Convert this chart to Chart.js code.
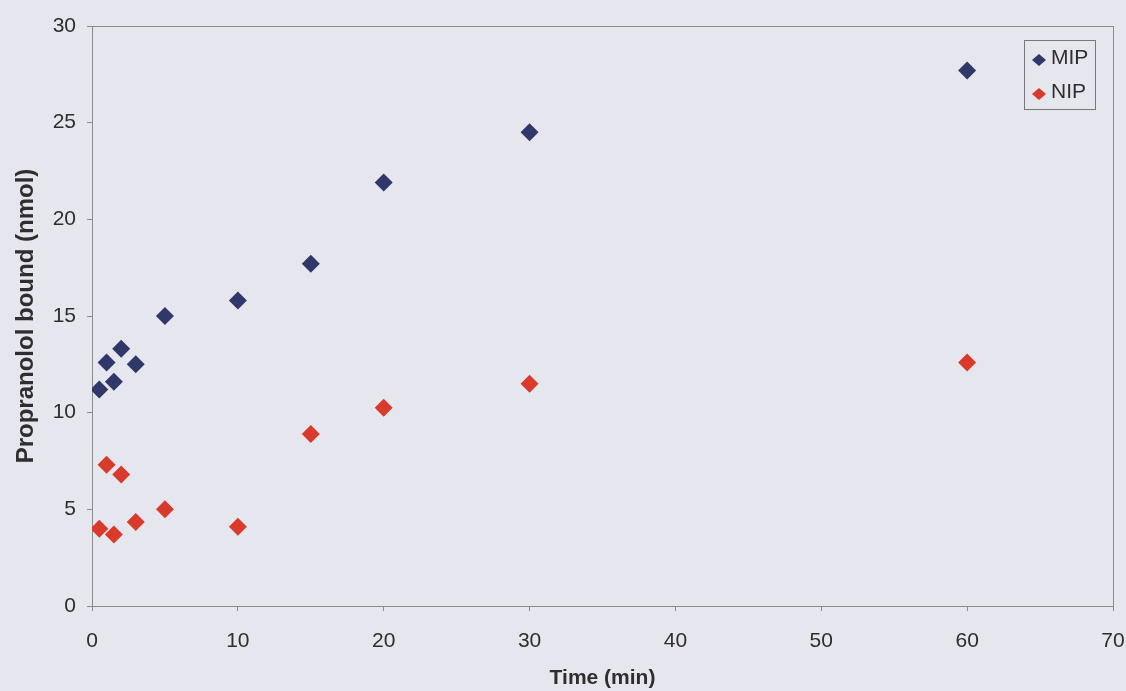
<!DOCTYPE html>
<html>
<head>
<meta charset="utf-8">
<script src="https://cdn.jsdelivr.net/npm/chart.js@4"></script>
<style>
  html, body { margin: 0; padding: 0; background: #e6e6ee; }
  #wrap { width: 1126px; height: 691px; }
</style>
</head>
<body>
<div id="wrap"><canvas id="bindingChart" width="1126" height="691"></canvas></div>
<script>
const timeMin = [0.5, 1, 1.5, 2, 3, 5, 10, 15, 20, 30, 60];
const mipBound = [11.2, 12.6, 11.6, 13.3, 12.5, 15.0, 15.8, 17.7, 21.9, 24.5, 27.7];
const nipBound = [4.0, 7.3, 3.7, 6.8, 4.35, 5.0, 4.1, 8.9, 10.25, 11.5, 12.6];
const seriesNames = ["MIP", "NIP"];
const seriesColors = ["#2f3868", "#d83a2c"];

const ctx = document.getElementById("bindingChart");
const axisColor = "#8a8a90";
const textColor = "#2e2e2e";
const fontName = "'Liberation Sans', Arial, sans-serif";

// paint the page-coloured background behind everything
const bgPlugin = {
  id: "bg",
  beforeDraw(chart) {
    const c = chart.ctx;
    c.save();
    c.fillStyle = "#e6e6ee";
    c.fillRect(0, 0, chart.width, chart.height);
    c.restore();
  },
};

// boxed legend in the top right corner of the plot
const boxLegend = {
  id: "boxLegend",
  afterDatasetsDraw(chart) {
    const c = chart.ctx;
    const area = chart.chartArea;
    const x0 = area.right - 89, y0 = area.top + 14, w = 71, h = 69;
    c.save();
    c.strokeStyle = "#77777c";
    c.lineWidth = 1;
    c.strokeRect(x0 + 0.5, y0 + 0.5, w, h);
    c.font = "21px " + fontName;
    c.textBaseline = "middle";
    seriesNames.forEach((name, i) => {
      const cy = y0 + 20 + i * 34;
      const cx = x0 + 15;
      c.fillStyle = seriesColors[i];
      c.beginPath();
      c.moveTo(cx, cy - 6);
      c.lineTo(cx + 7, cy);
      c.lineTo(cx, cy + 6);
      c.lineTo(cx - 7, cy);
      c.closePath();
      c.fill();
      c.fillStyle = textColor;
      c.fillText(name, cx + 12, cy - 2);
    });
    c.restore();
  },
};

// full frame around the plot area
const frame = {
  id: "frame",
  beforeDatasetsDraw(chart) {
    const c = chart.ctx;
    const a = chart.chartArea;
    c.save();
    c.strokeStyle = axisColor;
    c.lineWidth = 1;
    c.strokeRect(a.left + 0.5, a.top + 0.5, a.right - a.left, a.bottom - a.top);
    c.restore();
  },
};

new Chart(ctx, {
  type: "scatter",
  data: {
    datasets: [
      {
        label: seriesNames[0],
        data: timeMin.map((t, i) => ({ x: t, y: mipBound[i] })),
        backgroundColor: seriesColors[0],
        borderColor: seriesColors[0],
        pointStyle: "rectRot",
        pointRadius: 9,
        borderWidth: 0,
      },
      {
        label: seriesNames[1],
        data: timeMin.map((t, i) => ({ x: t, y: nipBound[i] })),
        backgroundColor: seriesColors[1],
        borderColor: seriesColors[1],
        pointStyle: "rectRot",
        pointRadius: 9,
        borderWidth: 0,
      },
    ],
  },
  options: {
    responsive: false,
    animation: false,
    layout: { padding: { left: 8, right: 13, top: 26, bottom: 0 } },
    plugins: {
      legend: { display: false },
      tooltip: { enabled: false },
    },
    scales: {
      x: {
        type: "linear",
        min: 0,
        max: 70,
        afterFit(scale) {
          scale.height = 85;
          scale.paddingLeft = 0;
          scale.paddingRight = 0;
        },
        ticks: {
          stepSize: 10,
          color: textColor,
          padding: 18,
          font: { size: 21, family: fontName },
        },
        grid: {
          display: true,
          drawOnChartArea: false,
          drawTicks: true,
          tickLength: 5,
          color: axisColor,
        },
        border: { color: axisColor },
        title: {
          display: true,
          text: "Time (min)",
          color: textColor,
          padding: { top: 4, bottom: 0 },
          font: { size: 21, weight: "bold", family: fontName },
        },
      },
      y: {
        min: 0,
        max: 30,
        afterFit(scale) {
          scale.width = 84;
          scale.paddingTop = 0;
          scale.paddingBottom = 0;
        },
        ticks: {
          stepSize: 5,
          color: textColor,
          padding: 11,
          font: { size: 21, family: fontName },
        },
        grid: {
          display: true,
          drawOnChartArea: false,
          drawTicks: true,
          tickLength: 5,
          color: axisColor,
        },
        border: { color: axisColor },
        title: {
          display: true,
          text: "Propranolol bound (nmol)",
          color: textColor,
          padding: { bottom: 2 },
          font: { size: 24, weight: "bold", family: fontName },
        },
      },
    },
  },
  plugins: [bgPlugin, frame, boxLegend],
});
</script>
</body>
</html>
